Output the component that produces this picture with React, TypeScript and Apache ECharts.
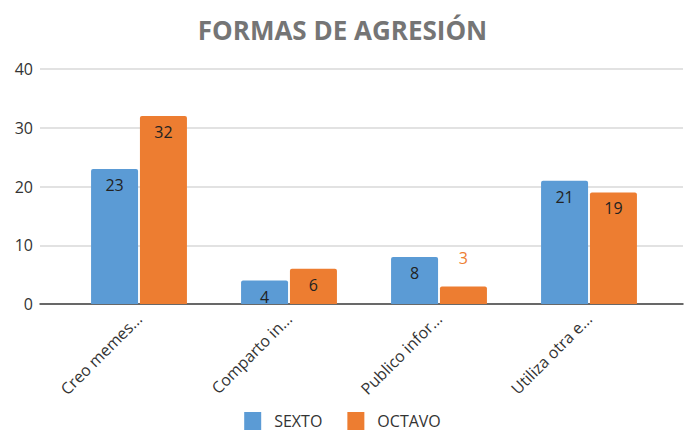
import React, { useEffect, useRef } from "react";
import * as echarts from "echarts";

const categories = ["Creo memes...", "Comparto in...", "Publico infor...", "Utiliza otra e..."];
const sexto = [23, 4, 8, 21];
const octavo = [32, 6, 3, 19];
const seriesNames = ["SEXTO", "OCTAVO"];
const title = "FORMAS DE AGRESIÓN";

const BLUE = "#5B9BD5";
const ORANGE = "#ED7D31";
const FONT = "Open Sans";

export default function App() {
  const ref = useRef<HTMLDivElement>(null);
  useEffect(() => {
    if (!ref.current) return;
    const chart = echarts.init(ref.current, null, { renderer: "svg" });
    const top = 69;
    const bottom = 127;
    chart.setOption({
      animation: false,
      backgroundColor: "#ffffff",
      textStyle: { fontFamily: FONT },
      title: {
        text: title,
        left: "center",
        top: 12,
        textStyle: { fontFamily: FONT, fontSize: 26, fontWeight: "bold", color: "#757575" },
      },
      legend: {
        top: 412,
        left: "center",
        itemWidth: 17,
        itemHeight: 18,
        itemGap: 25,
        icon: "rect",
        padding: 0,
        data: seriesNames,
        textStyle: { fontFamily: FONT, fontSize: 16, color: "#333", padding: [0, 0, 0, 8] },
      },
      grid: [
        { left: 40, right: 2, top, bottom },
        { left: 64, right: 21, top, bottom },
      ],
      xAxis: [
        {
          type: "category",
          gridIndex: 0,
          data: [""],
          axisLine: { show: true, lineStyle: { color: "#404040", width: 1.5 } },
          axisTick: { show: false },
          axisLabel: { show: false },
        },
        {
          type: "category",
          gridIndex: 1,
          data: categories,
          axisLine: { show: false },
          axisTick: { show: false },
          axisLabel: {
            rotate: 45,
            margin: 12,
            fontFamily: FONT,
            fontSize: 16,
            color: "#333",
            interval: 0,
          },
        },
      ],
      yAxis: [
        {
          type: "value",
          gridIndex: 0,
          min: 0,
          max: 40,
          interval: 10,
          axisLine: { show: false },
          axisTick: { show: false },
          axisLabel: { fontFamily: FONT, fontSize: 16, color: "#333", margin: 7 },
          splitLine: { lineStyle: { color: "#d9d9d9", width: 1.5 } },
        },
        {
          type: "value",
          gridIndex: 1,
          min: 0,
          max: 40,
          interval: 10,
          show: false,
          splitLine: { show: false },
        },
      ],
      series: [
        {
          name: seriesNames[0],
          type: "bar",
          xAxisIndex: 1,
          yAxisIndex: 1,
          data: sexto,
          barWidth: 47,
          barGap: "4%",
          itemStyle: { color: BLUE, borderRadius: [2, 2, 0, 0] },
          label: {
            show: true,
            position: "insideTop",
            distance: 8,
            fontFamily: FONT,
            fontSize: 16,
            color: "#222",
          },
        },
        {
          name: seriesNames[1],
          type: "bar",
          xAxisIndex: 1,
          yAxisIndex: 1,
          data: octavo.map((v) =>
            v < 5
              ? { value: v, label: { position: "top", distance: 20, color: ORANGE } }
              : v
          ),
          barWidth: 47,
          itemStyle: { color: ORANGE, borderRadius: [2, 2, 0, 0] },
          label: {
            show: true,
            position: "insideTop",
            distance: 8,
            fontFamily: FONT,
            fontSize: 16,
            color: "#222",
          },
        },
      ],
    });
    return () => chart.dispose();
  }, []);
  return (
    <div
      ref={ref}
      style={{ position: "fixed", left: 0, top: 0, width: 685, height: 431 }}
    />
  );
}
